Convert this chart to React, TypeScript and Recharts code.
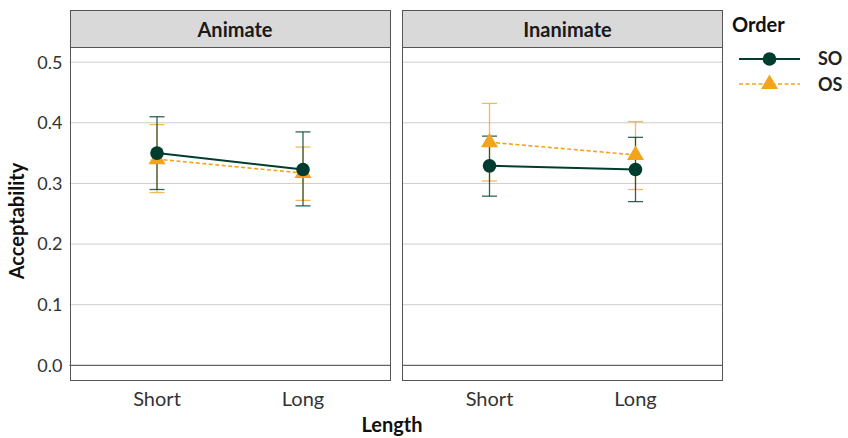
import React from 'react';
import { LineChart, Line, XAxis, YAxis, CartesianGrid, ErrorBar, ReferenceLine } from 'recharts';

const lengths = ['Short', 'Long'];
const panelNames = ['Animate', 'Inanimate'];

const animateSO = [0.350, 0.323];
const animateSOLow = [0.290, 0.263];
const animateSOHigh = [0.410, 0.385];
const animateOS = [0.340, 0.317];
const animateOSLow = [0.285, 0.272];
const animateOSHigh = [0.397, 0.360];

const inanimateSO = [0.329, 0.323];
const inanimateSOLow = [0.279, 0.270];
const inanimateSOHigh = [0.378, 0.376];
const inanimateOS = [0.368, 0.347];
const inanimateOSLow = [0.304, 0.290];
const inanimateOSHigh = [0.432, 0.402];

const yTicks = [0, 0.1, 0.2, 0.3, 0.4, 0.5];
const yDomain = [-0.025, 0.525];

const SO_COLOR = '#003D2E';
const OS_COLOR = '#F4A41C';
const FONT = 'Lato, "Open Sans", sans-serif';

function buildRows(so: number[], soLow: number[], soHigh: number[], os: number[], osLow: number[], osHigh: number[]) {
  return lengths.map((l, i) => ({
    length: l,
    SO: so[i],
    SOerr: [so[i] - soLow[i], soHigh[i] - so[i]],
    OS: os[i],
    OSerr: [os[i] - osLow[i], osHigh[i] - os[i]],
  }));
}

const panelData = [
  buildRows(animateSO, animateSOLow, animateSOHigh, animateOS, animateOSLow, animateOSHigh),
  buildRows(inanimateSO, inanimateSOLow, inanimateSOHigh, inanimateOS, inanimateOSLow, inanimateOSHigh),
];

const TriangleDot = (props: any) => {
  const { cx, cy, index } = props;
  if (cx == null || cy == null) return <g key={`t-${index}`} />;
  return (
    <path
      key={`t-${index}`}
      d={`M${cx},${cy - 9.5} L${cx + 8.5},${cy + 5} L${cx - 8.5},${cy + 5} Z`}
      fill={OS_COLOR}
    />
  );
};

const PLOT_TOP = 47;
const PLOT_BOTTOM = 380.5;
const CHART_H = 438;
const XAXIS_H = 30;
const PLOT_W = 321;

function Panel({ idx, left, showY }: { idx: number; left: number; showY: boolean }) {
  const yW = showY ? 69.5 : 0;
  const width = yW + PLOT_W;
  const data = panelData[idx];
  const plotLeft = left + yW;
  return (
    <>
      <div style={{ position: 'absolute', left, top: 0 }}>
        <LineChart
          width={width}
          height={CHART_H}
          data={data}
          margin={{ top: PLOT_TOP, right: 0, left: 0, bottom: CHART_H - PLOT_BOTTOM - XAXIS_H }}
        >
          <CartesianGrid vertical={false} stroke="#cdcdcd" strokeWidth={1} horizontalValues={yTicks} />
          <ReferenceLine y={0} stroke="#4d4d4d" strokeWidth={1} />
          <XAxis
            dataKey="length"
            type="category"
            padding={{ left: 87.5, right: 87.5 }}
            height={XAXIS_H}
            axisLine={false}
            tickLine={false}
            tickSize={0}
            tickMargin={11}
            tick={{ fill: '#333333', fontSize: 20, fontFamily: FONT }}
            interval={0}
          />
          <YAxis
            hide={!showY}
            width={yW}
            type="number"
            domain={yDomain}
            ticks={yTicks}
            allowDataOverflow
            axisLine={false}
            tickLine={false}
            tickSize={0}
            tickMargin={7}
            tickFormatter={(v: number) => v.toFixed(1)}
            tick={{ fill: '#333333', fontSize: 18, fontFamily: FONT }}
          />
          <Line
            dataKey="OS"
            stroke={OS_COLOR}
            strokeWidth={1.6}
            strokeDasharray="4 2.5"
            dot={TriangleDot}
            activeDot={false}
            isAnimationActive={false}
          >
            <ErrorBar dataKey="OSerr" width={7.5} stroke={OS_COLOR} strokeOpacity={0.75} strokeWidth={1.3} />
          </Line>
          <Line
            dataKey="SO"
            stroke={SO_COLOR}
            strokeWidth={2}
            dot={{ r: 6.8, fill: SO_COLOR, stroke: 'none' }}
            activeDot={false}
            isAnimationActive={false}
          >
            <ErrorBar dataKey="SOerr" width={7.5} stroke={SO_COLOR} strokeOpacity={0.8} strokeWidth={1.3} />
          </Line>
        </LineChart>
      </div>
      <div
        style={{
          position: 'absolute',
          left: plotLeft,
          top: PLOT_TOP - 0.5,
          width: PLOT_W,
          height: PLOT_BOTTOM - PLOT_TOP + 0.5,
          border: '1px solid #555555',
          boxSizing: 'border-box',
          pointerEvents: 'none',
        }}
      />
      <div
        style={{
          position: 'absolute',
          left: plotLeft,
          top: 10,
          width: PLOT_W,
          height: 37.5,
          background: '#D9D9D9',
          border: '1px solid #555555',
          boxSizing: 'border-box',
          display: 'flex',
          alignItems: 'center',
          justifyContent: 'center',
          paddingLeft: 10,
          fontFamily: FONT,
          fontWeight: 700,
          fontSize: 20,
          color: '#1a1a1a',
        }}
      >
        {panelNames[idx]}
      </div>
    </>
  );
}

export default function App() {
  return (
    <div
      style={{
        position: 'absolute',
        left: 0,
        top: 0,
        width: 848,
        height: 438,
        background: '#ffffff',
        fontFamily: FONT,
        overflow: 'hidden',
      }}
    >
      <Panel idx={0} left={0} showY={true} />
      <Panel idx={1} left={402} showY={false} />
      <svg width={848} height={438} style={{ position: 'absolute', left: 0, top: 0, pointerEvents: 'none' }}>
        <text x={392} y={432} textAnchor="middle" fontFamily={FONT} fontWeight={700} fontSize={20} fill="#111">
          Length
        </text>
        <text
          x={24}
          y={221}
          transform="rotate(-90 24 221)"
          textAnchor="middle"
          fontFamily={FONT}
          fontWeight={700}
          fontSize={20}
          fill="#111"
        >
          Acceptability
        </text>
        <text x={732} y={32} fontFamily={FONT} fontWeight={700} fontSize={20} fill="#111">
          Order
        </text>
        <line x1={739} x2={800} y1={59} y2={59} stroke={SO_COLOR} strokeWidth={2} />
        <circle cx={769.5} cy={59} r={6.8} fill={SO_COLOR} />
        <text x={818} y={65} fontFamily={FONT} fontWeight={700} fontSize={18} fill="#222">
          SO
        </text>
        <line x1={739} x2={800} y1={84} y2={84} stroke={OS_COLOR} strokeWidth={1.6} strokeDasharray="4 2.5" />
        <path d="M769.5,74.5 L778,89 L761,89 Z" fill={OS_COLOR} />
        <text x={818} y={91} fontFamily={FONT} fontWeight={700} fontSize={18} fill="#222">
          OS
        </text>
      </svg>
    </div>
  );
}
